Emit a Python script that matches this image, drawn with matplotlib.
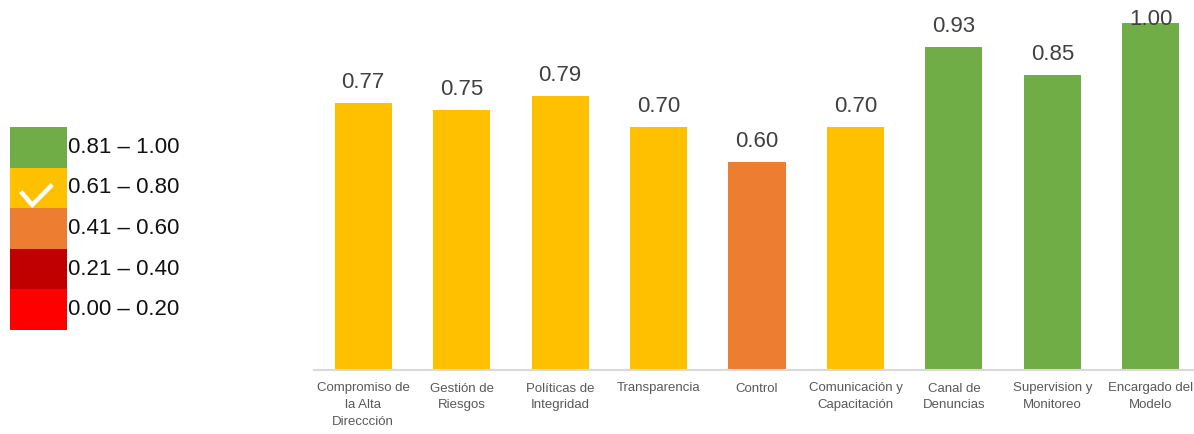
import matplotlib
matplotlib.use('Agg')
import matplotlib.pyplot as plt

plt.rcParams['font.family'] = ['Liberation Sans', 'DejaVu Sans']

# datos del gráfico
categorias = ['Compromiso de\nla Alta\nDireccción', 'Gestión de\nRiesgos', 'Políticas de\nIntegridad',
              'Transparencia', 'Control', 'Comunicación y\nCapacitación', 'Canal de\nDenuncias',
              'Supervision y\nMonitoreo', 'Encargado del\nModelo']
valores = [0.77, 0.75, 0.79, 0.70, 0.60, 0.70, 0.93, 0.85, 1.00]

# leyenda de rangos (de abajo hacia arriba)
rangos = ['0.00 – 0.20', '0.21 – 0.40', '0.41 – 0.60', '0.61 – 0.80', '0.81 – 1.00']
colores_rango = ['#FF0000', '#C00000', '#ED7D31', '#FFC000', '#70AD47']
limites = [0.20, 0.40, 0.60, 0.80, 1.00]


def color_de(v):
    for lim, c in zip(limites, colores_rango):
        if round(v, 2) <= lim:
            return c
    return colores_rango[-1]


W, H = 1194, 434
fig = plt.figure(figsize=(W / 100, H / 100), dpi=100)

# barras principales
ax = fig.add_axes([314 / W, (H - 370) / H, 886 / W, 370 / H])
x = list(range(len(valores)))
ax.bar(x, valores, width=0.58, color=[color_de(v) for v in valores])
ax.set_xlim(-0.5, len(valores) - 0.5)
ax.set_ylim(0, 1.066)
for xi, v in zip(x, valores):
    ax.text(xi, min(v + 0.043, 0.994), f'{v:.2f}', ha='center', va='baseline',
            fontsize=16, color='#404040')
ax.set_xticks(x)
ax.set_xticklabels(categorias, fontsize=9.5, color='#595959', linespacing=1.55)
ax.tick_params(axis='x', length=0, pad=9)
ax.set_yticks([])
for s in ['top', 'right', 'left']:
    ax.spines[s].set_visible(False)
ax.spines['bottom'].set_color('#D9D9D9')
ax.spines['bottom'].set_linewidth(1.5)

# leyenda
axl = fig.add_axes([10 / W, (H - 330) / H, 57 / W, 203 / H])
pos = list(range(len(rangos)))
axl.barh(pos, [1] * len(rangos), height=1.0, color=colores_rango)
axl.set_xlim(0, 1)
axl.set_ylim(-0.5, len(rangos) - 0.5)
axl.axis('off')
for p, r in zip(pos, rangos):
    axl.text(1.02, p, r, transform=axl.get_yaxis_transform(), ha='left', va='center',
             fontsize=16, color='#111111', clip_on=False)
# marca de verificación
axl.plot([0.19, 0.39, 0.74], [2.91, 2.58, 3.08], color='white', lw=3.2,
         solid_capstyle='butt', solid_joinstyle='miter')

fig.savefig('out.png', dpi=100)
